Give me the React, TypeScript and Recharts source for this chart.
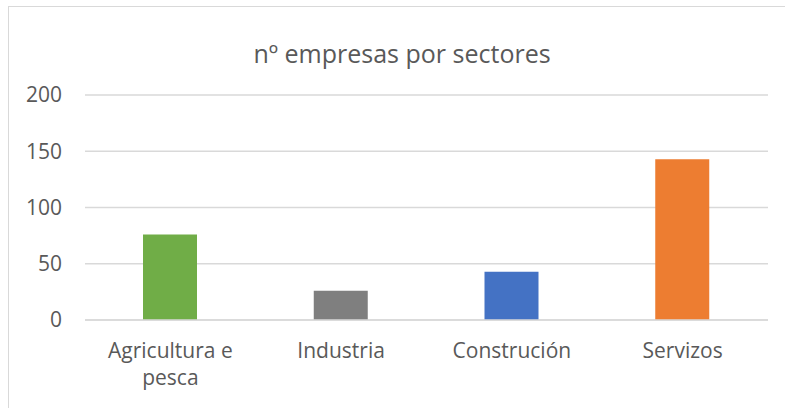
import { BarChart, Bar, XAxis, YAxis, CartesianGrid, Cell } from "recharts"

const sectors = ["Agricultura e pesca", "Industria", "Construción", "Servizos"]
const companies = [76, 26, 43, 143]
const barColors = ["#70AD47", "#7F7F7F", "#4472C4", "#ED7D31"]
const yTicks = [0, 50, 100, 150, 200]

const data = sectors.map((name, i) => ({ name, value: companies[i] }))

const FONT = "'Open Sans', sans-serif"

// wrap category labels like Excel does (max ~13 chars per line)
function wrapLabel(text: string, maxChars = 13) {
  const words = text.split(" ")
  const lines: string[] = []
  let cur = ""
  for (const w of words) {
    const next = cur ? cur + " " + w : w
    if (next.length > maxChars && cur) {
      lines.push(cur)
      cur = w
    } else {
      cur = next
    }
  }
  if (cur) lines.push(cur)
  return lines
}

function CategoryTick(props: any) {
  const { x, y, payload } = props
  const lines = wrapLabel(String(payload.value))
  return (
    <text x={x} y={y} textAnchor="middle" fill="#595959" fontSize={21} fontFamily={FONT}>
      {lines.map((line, i) => (
        <tspan key={i} x={x} dy={i === 0 ? 38 : 27}>
          {line}
        </tspan>
      ))}
    </text>
  )
}

export default function App() {
  return (
    <div
      style={{
        position: "fixed",
        left: 0,
        top: 0,
        width: 785,
        height: 408,
        overflow: "hidden",
        background: "#fff",
      }}
    >
      <div
        style={{
          position: "absolute",
          left: 8,
          top: 6,
          width: 820,
          height: 440,
          border: "1px solid #d9d9d9",
        }}
      />
      <div
        style={{
          position: "absolute",
          left: 0,
          width: 804,
          top: 41,
          textAlign: "center",
          fontFamily: FONT,
          fontSize: 25,
          lineHeight: "25px",
          color: "#595959",
        }}
      >
        nº empresas por sectores
      </div>
      <div style={{ position: "absolute", left: 0, top: 0 }}>
        <BarChart
          width={785}
          height={408}
          data={data}
          margin={{ top: 95, right: 17, bottom: 58, left: 0 }}
        >
          <CartesianGrid vertical={false} stroke="#d9d9d9" strokeWidth={1.3} />
          <XAxis
            dataKey="name"
            height={30}
            axisLine={{ stroke: "#d9d9d9", strokeWidth: 1.3 }}
            tickLine={false}
            tickSize={0}
            tickMargin={0}
            interval={0}
            tick={<CategoryTick />}
          />
          <YAxis
            width={85}
            domain={[0, 200]}
            ticks={yTicks}
            axisLine={false}
            tickLine={false}
            tickSize={0}
            tickMargin={23}
            tick={{ fill: "#595959", fontSize: 21, fontFamily: FONT }}
          />
          <Bar dataKey="value" barSize={54} isAnimationActive={false}>
            {data.map((d, i) => (
              <Cell key={d.name} fill={barColors[i]} />
            ))}
          </Bar>
        </BarChart>
      </div>
    </div>
  )
}
